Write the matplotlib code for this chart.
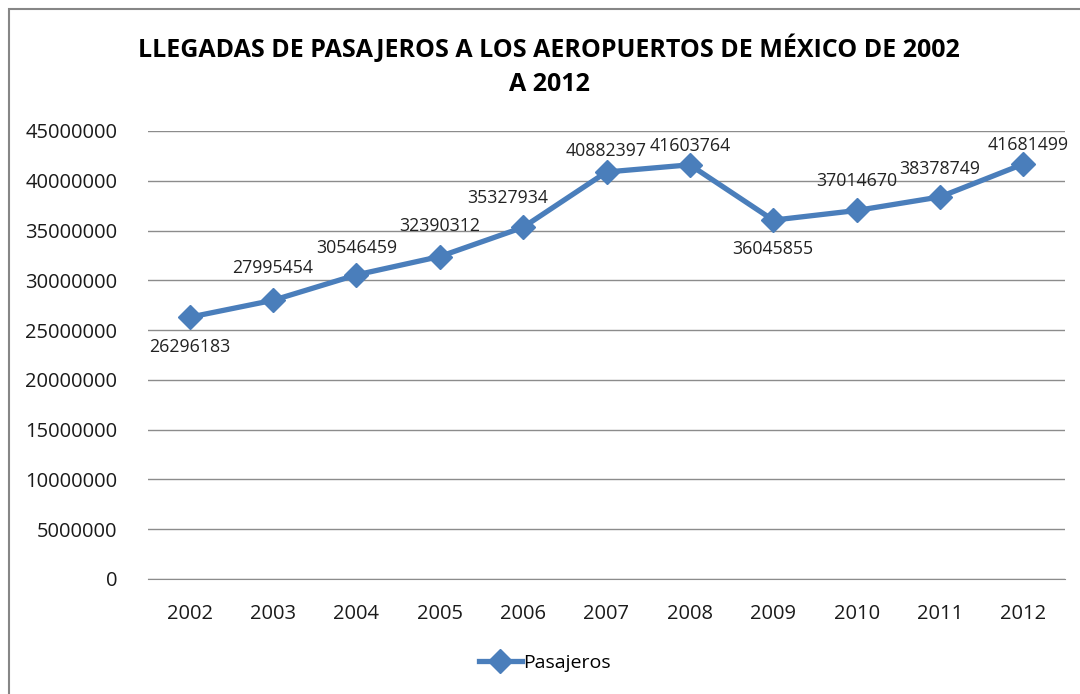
import matplotlib
matplotlib.use("Agg")
import matplotlib.pyplot as plt
from matplotlib.patches import Rectangle
from matplotlib.ticker import MultipleLocator, FuncFormatter

years = ["2002", "2003", "2004", "2005", "2006", "2007", "2008", "2009", "2010", "2011", "2012"]
pasajeros = [26296183, 27995454, 30546459, 32390312, 35327934, 40882397,
             41603764, 36045855, 37014670, 38378749, 41681499]
title = "LLEGADAS DE PASAJEROS A LOS AEROPUERTOS DE MÉXICO DE 2002\nA 2012"
series_name = "Pasajeros"

# label offsets in pixels (dx, dy) - style only
label_offsets = [(0, -30), (0, 32), (0, 27), (0, 31), (-15, 29), (0, 21),
                 (0, 19), (0, -29), (0, 29), (0, 28), (5, 19)]

plt.rcParams['font.family'] = ['Open Sans', 'DejaVu Sans']
color = "#4A7EBB"

fig = plt.figure(figsize=(10.8, 6.94), dpi=100)
W, H = 1080, 694
ax = fig.add_axes([148 / W, 1 - 579 / H, (1065 - 148) / W, (579 - 131) / H])

x = list(range(len(years)))
ax.plot(x, pasajeros, color=color, lw=3.8, marker='D', ms=12, mec=color, mfc=color,
        label=series_name, zorder=3, solid_joinstyle='round')

for i, v in enumerate(pasajeros):
    dx, dy = label_offsets[i]
    ax.annotate(str(v), (i, v), xytext=(dx, dy), textcoords='offset pixels',
                ha='center', va='center', fontsize=12.8, color='#222222')

ax.set_xlim(-0.5, len(years) - 0.5)
ax.set_ylim(0, 45000000)
ax.yaxis.set_major_locator(MultipleLocator(5000000))
ax.yaxis.set_major_formatter(FuncFormatter(lambda v, p: f"{int(v)}"))
ax.set_xticks(x)
ax.set_xticklabels(years)
ax.grid(axis='y', color='#8c8c8c', lw=1)
ax.set_axisbelow(True)
for s in ['left', 'right', 'top']:
    ax.spines[s].set_visible(False)
ax.spines['bottom'].set_color('#8c8c8c')
ax.tick_params(axis='both', length=0, labelsize=14.5, colors='#1a1a1a')
ax.tick_params(axis='y', pad=22)
ax.tick_params(axis='x', pad=18)

fig.text(549 / W, 1 - 66 / H, title, ha='center', va='center', fontsize=18,
         fontweight='bold', linespacing=1.45, color='#000000')

leg = fig.legend(loc='center', bbox_to_anchor=(545 / W, 1 - 663 / H), frameon=False,
                 fontsize=14, handlelength=2.2, handletextpad=0.1)

fig.patches.append(Rectangle((9 / W, -0.1), 1.2, 1.1 - 9 / H, transform=fig.transFigure,
                             fill=False, edgecolor='#868686', lw=1.5))

fig.savefig("out.png", dpi=100)
